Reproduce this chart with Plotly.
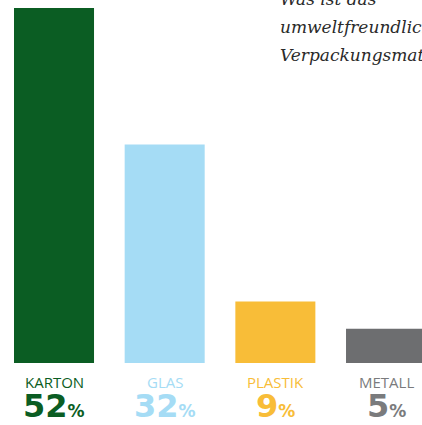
import plotly.graph_objects as go

# Daten
kategorien = ["KARTON", "GLAS", "PLASTIK", "METALL"]
anteile = [52, 32, 9, 5]
farben = ["#0b5d23", "#a5dcf5", "#f8bd38", "#6d6e70"]
label_farben = ["#0b5d23", "#a5dcf5", "#f8bd38", "#7a7b7d"]
titel_zeilen = ["Was ist das", "umweltfreundlichste", "Verpackungsmaterial?"]

W, H = 422, 425


def py(p):
    """Pixel (von oben) -> paper-Koordinate."""
    return 1 - p / H


x_pos = list(range(len(kategorien)))

fig = go.Figure()
fig.add_trace(go.Bar(
    x=x_pos, y=anteile,
    width=0.723,
    marker=dict(color=farben, line=dict(width=0)),
    hoverinfo="skip",
))

# Kategorien und Prozentwerte unter den Balken
for i, (kat, wert, col) in enumerate(zip(kategorien, anteile, label_farben)):
    fig.add_annotation(
        x=i, xref="x", y=py(381.5), yref="paper",
        text=kat, showarrow=False, xanchor="center", yanchor="middle",
        font=dict(family="Open Sans", size=15, color=col),
    )
    fig.add_annotation(
        x=i, xref="x", y=py(406), yref="paper",
        text=f"<b>{wert}</b><span style='font-size:17px'><b>%</b></span>",
        showarrow=False, xanchor="center", yanchor="middle",
        font=dict(family="DejaVu Sans", size=32, color=col),
    )

# Titel oben rechts (abgeschnitten)
for j, zeile in enumerate(titel_zeilen):
    fig.add_annotation(
        x=278 / W, xref="paper", y=py(-1 + 28 * j), yref="paper",
        text=f"<i>{zeile}</i>", showarrow=False, xanchor="left", yanchor="middle",
        font=dict(family="DejaVu Serif", size=17, color="#2a2a2a"),
    )

fig.update_layout(
    width=W, height=H,
    margin=dict(l=0, r=0, t=0, b=0),
    paper_bgcolor="white",
    plot_bgcolor="white",
    showlegend=False,
    xaxis=dict(range=[-0.488, 3.325], visible=False, fixedrange=True),
    yaxis=dict(range=[-9.08, 53.17], visible=False, fixedrange=True),
)

fig.write_html("out.html", config={"displayModeBar": False},
               post_script="document.body.style.margin='0';")
